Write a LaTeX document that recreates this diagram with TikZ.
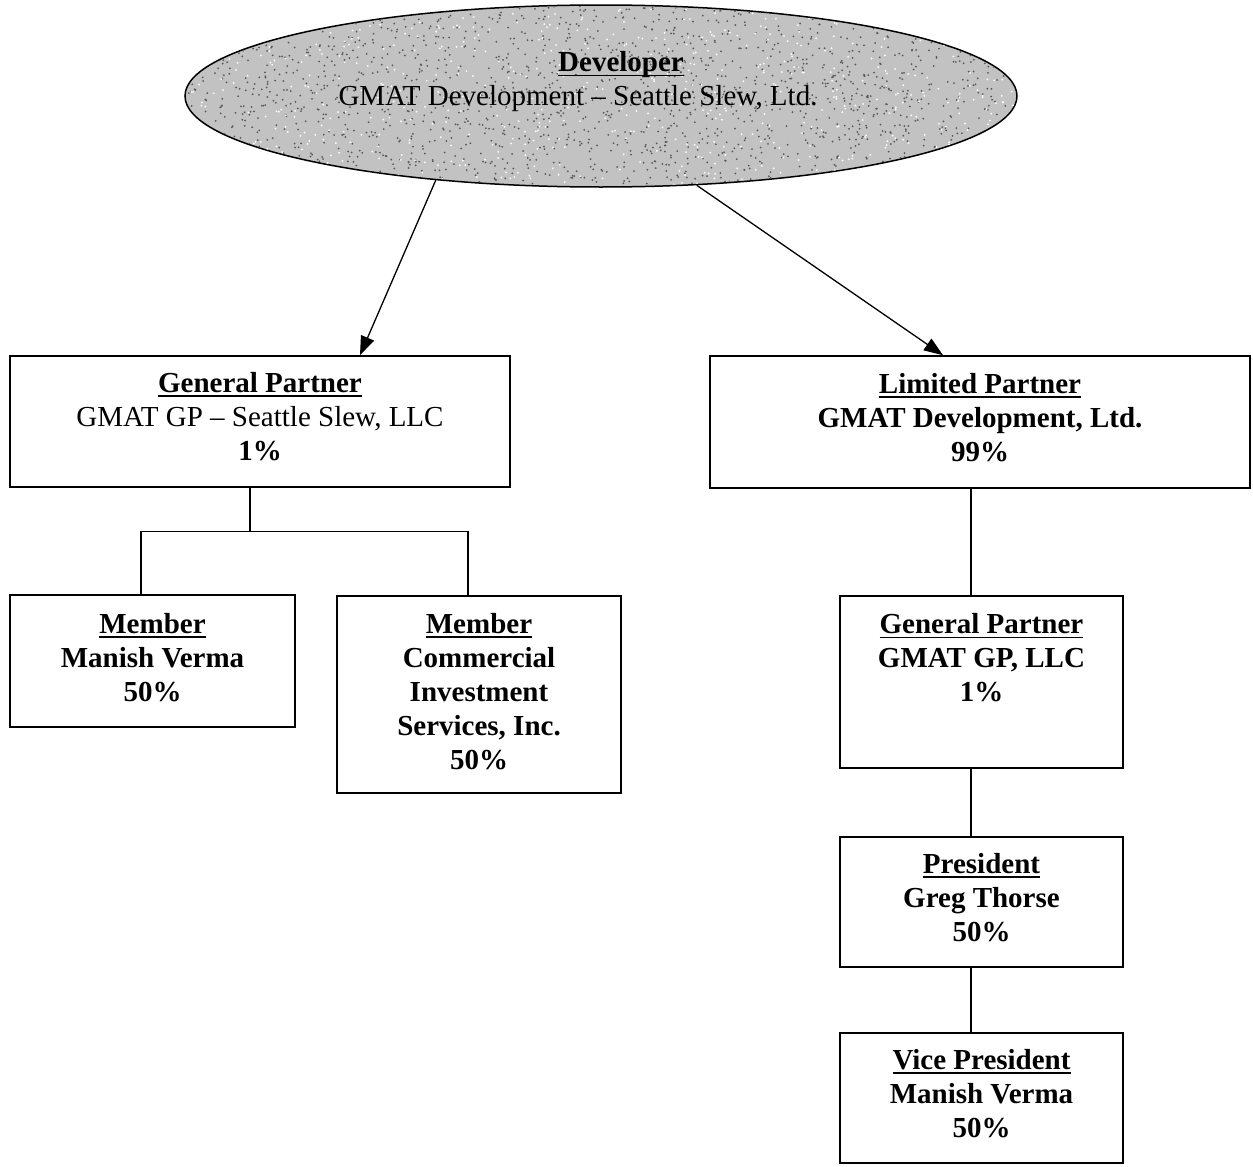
\documentclass[tikz,border=0pt]{standalone}
\usepackage{fontspec}
\setmainfont{Liberation Serif}
\usetikzlibrary{shapes.geometric,arrows.meta}
\newcommand{\hdr}[1]{\setbox0\hbox{\bfseries #1}\rlap{\rule[-4.5pt]{\wd0}{1.8pt}}\box0}
\newcommand{\dpt}[1]{\rule[-#1]{0pt}{0pt}}
\begin{document}
\begin{tikzpicture}[x=1pt,y=-1pt,
  txt/.style={inner sep=0pt, align=center, font=\fontsize{29}{34}\selectfont},
  box/.style={draw, line width=1.6pt, inner sep=0pt, align=center, font=\fontsize{29}{34}\selectfont},
  bbox/.style={box, font=\fontsize{29}{34}\selectfont\bfseries},
  conn/.style={line width=1.3pt},
  arr/.style={conn, -{Triangle[length=19pt,width=14pt]}}]
\useasboundingbox (0,0) rectangle (1253,1167);
\pgfmathsetseed{4242}
% developer ellipse
\node[ellipse, draw, line width=1.5pt, fill=black!24, minimum width=832pt, minimum height=182pt, inner sep=0pt] (dev) at (601,96) {};
\begin{scope}
  \clip (601,96) ellipse [x radius=415pt, y radius=90pt];
  \foreach \i in {1,...,1900}{\fill[black!65] ({601+416*rand},{96+91*rand}) circle (1pt);}
  \foreach \i in {1,...,700}{\fill[white] ({601+416*rand},{96+91*rand}) circle (1pt);}
\end{scope}
\node[txt] (devh) at (621,65) {\hdr{Developer}};
\node[txt] (devn) at (578,99) {GMAT Development – Seattle Slew, Ltd.};
% boxes
\node[box, minimum width=500pt, minimum height=131pt] (gpl) at (260,421.5)
  {\hdr{General Partner}\\GMAT GP – Seattle Slew, LLC\\\textbf{1\%}\dpt{10pt}};
\node[bbox, minimum width=540pt, minimum height=132pt] (lp) at (980,422)
  {\hdr{Limited Partner}\\GMAT Development, Ltd.\\99\%\dpt{10pt}};
\node[bbox, minimum width=285pt, minimum height=132pt] (m1) at (152.5,661)
  {\hdr{Member}\\Manish Verma\\50\%\dpt{7pt}};
\node[bbox, minimum width=284pt, minimum height=197pt] (m2) at (479,694.5)
  {\hdr{Member}\\Commercial\\Investment\\Services, Inc.\\50\%\dpt{7pt}};
\node[bbox, minimum width=283pt, minimum height=172pt] (gpr) at (981.5,682)
  {\hdr{General Partner}\\GMAT GP, LLC\\1\%\\[4pt]\strut};
\node[bbox, minimum width=283pt, minimum height=130pt] (pres) at (981.5,902)
  {\hdr{President}\\Greg Thorse\\50\%\dpt{10pt}};
\node[bbox, minimum width=283pt, minimum height=130pt] (vp) at (981.5,1098)
  {\hdr{Vice President}\\Manish Verma\\50\%\dpt{9pt}};
% connectors
\draw[arr] (dev.207) -- ([xshift=100pt]gpl.north);
\draw[arr] (dev.317) -- ([xshift=-37pt]lp.north);
\draw[conn] ([xshift=-10pt]gpl.south) -- ++(0,44) coordinate (jl);
\draw[conn] ([xshift=-11.5pt]m1.north) |- (jl) -| ([xshift=-11pt]m2.north);
\draw[conn] ([xshift=-9pt]lp.south) -- ([xshift=-10.5pt]gpr.north);
\draw[conn] ([xshift=-10.5pt]gpr.south) -- ([xshift=-10.5pt]pres.north);
\draw[conn] ([xshift=-10.5pt]pres.south) -- ([xshift=-10.5pt]vp.north);
\end{tikzpicture}
\end{document}
